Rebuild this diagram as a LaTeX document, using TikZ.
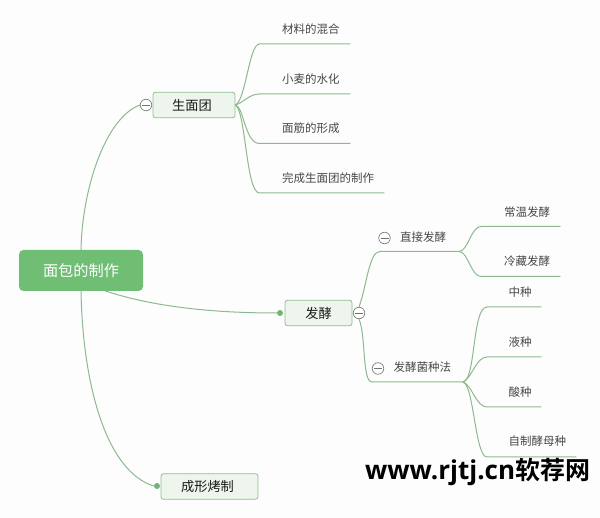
\documentclass[tikz,border=0pt]{standalone}
\usepackage{fontspec}
\setmainfont{Noto Sans CJK SC}
\newfontfamily\latinbold{Open Sans}[BoldFont={Open Sans Bold}]
\newfontfamily\cjkbold{Noto Sans CJK SC Bold}
\definecolor{rootgreen}{HTML}{6FBE74}
\definecolor{linkgreen}{HTML}{8DB98F}
\definecolor{boxfill}{HTML}{EDF5EC}
\definecolor{boxedge}{HTML}{8FBF90}
\definecolor{pagebg}{HTML}{FDFDFD}
\definecolor{dotgreen}{HTML}{74B377}
\tikzset{
  x=1pt,y=-1pt,
  link/.style={draw=linkgreen,line width=1pt,line cap=round},
  rootbox/.style={draw=none,fill=rootgreen,rounded corners=4.5pt,inner sep=0pt,minimum width=124pt,minimum height=41pt,text=white,font=\fontsize{15.2}{18}\selectfont},
  mainbox/.style={draw=boxedge,line width=0.8pt,fill=boxfill,rounded corners=2.5pt,inner sep=0pt,minimum height=25.5pt,text=black!90,font=\fontsize{13.2}{16}\selectfont},
  leaftext/.style={inner sep=0pt,text=black!72,font=\fontsize{11.5}{14}\selectfont},
  subtext/.style={inner sep=0pt,text=black!72,font=\fontsize{11.5}{14}\selectfont},
  foldmark/.style={circle,draw=black!50,line width=0.7pt,fill=white,inner sep=0pt,minimum size=11.5pt,path picture={\draw[black!55,line width=0.7pt] ([xshift=-4pt]path picture bounding box.center) -- ([xshift=4pt]path picture bounding box.center);}},
  enddot/.style={circle,fill=dotgreen,draw=none,inner sep=0pt,minimum size=6pt},
}
\begin{document}
\begin{tikzpicture}
\useasboundingbox (0,0) rectangle (600,518);
\fill[pagebg] (0,0) rectangle (600,518);

% anchors for connectors
\coordinate (a1) at (259.5,44);   \coordinate (a1e) at (350,44);
\coordinate (a2) at (259.5,94);   \coordinate (a2e) at (350,94);
\coordinate (a3) at (259.5,143.5);\coordinate (a3e) at (350,143.5);
\coordinate (a4) at (259.5,193);  \coordinate (a4e) at (384,193);
\coordinate (dj) at (380,251.5);  \coordinate (djh) at (459,251.5);
\coordinate (ms) at (372,382);    \coordinate (msh) at (463,382);
\coordinate (b1) at (481,226.5);  \coordinate (b1e) at (560,226.5);
\coordinate (b2) at (481,276.5);  \coordinate (b2e) at (560,276.5);
\coordinate (c1) at (487,307);    \coordinate (c1e) at (541,307);
\coordinate (c2) at (487,357);    \coordinate (c2e) at (541,357);
\coordinate (c3) at (487,407);    \coordinate (c3e) at (541,407);
\coordinate (c4) at (487,457);    \coordinate (c4e) at (576,457);

% main nodes
\node[rootbox] (root) at (81,270.5) {面包的制作};
\node[mainbox,minimum width=82pt] (dough) at (194,105) {生面团\kern4pt};
\node[mainbox,minimum width=67pt] (ferm) at (318.5,313) {发酵};
\node[mainbox,minimum width=97pt] (shape) at (209.5,486.5) {成形烤制\kern4pt};

% fold marks and end dots
\node[foldmark] (fdough) at (146,105) {};
\node[foldmark] (fferm) at (359,313) {};
\node[foldmark] (fdj) at (384.5,238) {};
\node[foldmark] (fms) at (378,368.5) {};
\node[enddot] (dferm) at (280,313) {};
\node[enddot] (dshape) at (157,486) {};

% root connectors
\draw[link] (root.north) .. controls (82,190) and (105,118) .. (fdough.west);
\draw[link] (root.south) .. controls (83,390) and (108,472) .. (dshape.west);
\draw[link] (105.5,291) .. controls (160,309) and (225,313) .. (dferm.west);

% 生面团 branches
\draw[link] (dough.east) .. controls (246,100) and (249,44) .. (a1) -- (a1e);
\draw[link] (dough.east) .. controls (243,103) and (249,94) .. (a2) -- (a2e);
\draw[link] (dough.east) .. controls (244,107) and (245,143.5) .. (a3) -- (a3e);
\draw[link] (dough.east) .. controls (246,112) and (246,193) .. (a4) -- (a4e);

% 发酵 branches
\draw[link] (fferm.north) .. controls (367,285) and (369,251.5) .. (dj) -- (djh);
\draw[link] (fferm.south) .. controls (366,335) and (362,382) .. (ms) -- (msh);

% 直接发酵 branches
\draw[link] (djh) .. controls (468,251.5) and (471,226.5) .. (b1) -- (b1e);
\draw[link] (djh) .. controls (468,251.5) and (471,276.5) .. (b2) -- (b2e);

% 发酵菌种法 branches
\draw[link] (msh) .. controls (476,380) and (472,307) .. (c1) -- (c1e);
\draw[link] (msh) .. controls (472,378) and (476,357) .. (c2) -- (c2e);
\draw[link] (msh) .. controls (472,385) and (476,407) .. (c3) -- (c3e);
\draw[link] (msh) .. controls (474,385) and (475,457) .. (c4) -- (c4e);

% leaf texts
\node[leaftext,anchor=west] (t1) at (282,29.5) {材料的混合};
\node[leaftext,anchor=west] (t2) at (282,79) {小麦的水化};
\node[leaftext,anchor=west] (t3) at (282,128.5) {面筋的形成};
\node[leaftext,anchor=west] (t4) at (282,178.5) {完成生面团的制作};
\node[subtext,anchor=west] (t5) at (400,237.5) {直接发酵};
\node[subtext,anchor=west] (t6) at (393.5,367.5) {发酵菌种法};
\node[leaftext,anchor=west] (t7) at (504,212) {常温发酵};
\node[leaftext,anchor=west] (t8) at (504,261.5) {冷藏发酵};
\node[leaftext,anchor=west] (t9) at (508.5,292) {中种};
\node[leaftext,anchor=west] (t10) at (508.5,342.5) {液种};
\node[leaftext,anchor=west] (t11) at (508.5,392) {酸种};
\node[leaftext,anchor=west] (t12) at (508.5,441.5) {自制酵母种};

% watermark
\node[inner sep=0pt,anchor=west,text=black] (wm) at (365,472) {\fontsize{26}{30}\selectfont{\latinbold\bfseries www.rjtj.cn}\fontsize{25}{30}\selectfont{\cjkbold 软荐网}};
\end{tikzpicture}
\end{document}
